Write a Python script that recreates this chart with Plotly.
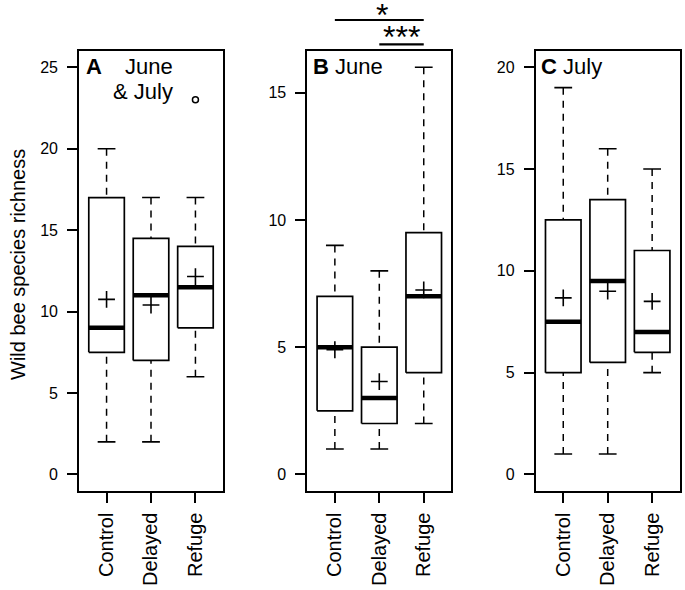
import plotly.graph_objects as go

categories = ["Control", "Delayed", "Refuge"]

# Panel A: June & July
a_lower = [2, 2, 6]
a_q1 = [7.5, 7, 9]
a_median = [9, 11, 11.5]
a_q3 = [17, 14.5, 14]
a_upper = [20, 17, 17]
a_mean = [10.75, 10.4, 12.15]
a_outliers = {"Refuge": [23]}

# Panel B: June
b_lower = [1, 1, 2]
b_q1 = [2.5, 2, 4]
b_median = [5, 3, 7]
b_q3 = [7, 5, 9.5]
b_upper = [9, 8, 16]
b_mean = [4.9, 3.65, 7.25]
b_outliers = {}

# Panel C: July
c_lower = [1, 1, 5]
c_q1 = [5, 5.5, 6]
c_median = [7.5, 9.5, 7]
c_q3 = [12.5, 13.5, 11]
c_upper = [19, 16, 15]
c_mean = [8.67, 9.0, 8.5]
c_outliers = {}

a_ticks = [0, 5, 10, 15, 20, 25]
b_ticks = [0, 5, 10, 15]
c_ticks = [0, 5, 10, 15, 20]

FONT = "Liberation Sans, Arial, Helvetica, sans-serif"
W, H = 685, 590
BOXW = 0.4     # half box width
CAPW = 0.2     # half staple width
XR = [0.38, 3.62]

panels = [
    dict(lo=a_lower, q1=a_q1, med=a_median, q3=a_q3, up=a_upper, mean=a_mean, out=a_outliers,
         ylim=(0, 25), ticks=a_ticks, px=(79, 223)),
    dict(lo=b_lower, q1=b_q1, med=b_median, q3=b_q3, up=b_upper, mean=b_mean, out=b_outliers,
         ylim=(0, 16), ticks=b_ticks, px=(307.3, 451.3)),
    dict(lo=c_lower, q1=c_q1, med=c_median, q3=c_q3, up=c_upper, mean=c_mean, out=c_outliers,
         ylim=(0, 20), ticks=c_ticks, px=(535.7, 679.7)),
]

fig = go.Figure()
ytop, ybot = 51, 490.7
ydom = [1 - ybot / H, 1 - ytop / H]

for k, p in enumerate(panels):
    sfx = "" if k == 0 else str(k + 1)
    xa, ya = "x" + sfx, "y" + sfx
    pos = list(range(1, len(categories) + 1))
    # whiskers (dashed)
    wx, wy = [], []
    for i, x in enumerate(pos):
        wx += [x, x, None, x, x, None]
        wy += [p["up"][i], p["q3"][i], None, p["lo"][i], p["q1"][i], None]
    fig.add_trace(go.Scatter(x=wx, y=wy, mode="lines", xaxis=xa, yaxis=ya,
                             line=dict(color="black", width=1.5, dash="7px,6px"),
                             hoverinfo="skip", showlegend=False))
    # staples
    sx, sy = [], []
    for i, x in enumerate(pos):
        sx += [x - CAPW, x + CAPW, None, x - CAPW, x + CAPW, None]
        sy += [p["up"][i], p["up"][i], None, p["lo"][i], p["lo"][i], None]
    fig.add_trace(go.Scatter(x=sx, y=sy, mode="lines", xaxis=xa, yaxis=ya,
                             line=dict(color="black", width=1.6),
                             hoverinfo="skip", showlegend=False))
    # boxes
    bx, by = [], []
    for i, x in enumerate(pos):
        bx += [x - BOXW, x + BOXW, x + BOXW, x - BOXW, x - BOXW, None]
        by += [p["q1"][i], p["q1"][i], p["q3"][i], p["q3"][i], p["q1"][i], None]
    fig.add_trace(go.Scatter(x=bx, y=by, mode="lines", xaxis=xa, yaxis=ya,
                             line=dict(color="black", width=1.7),
                             hoverinfo="skip", showlegend=False))
    # medians
    mx, my = [], []
    for i, x in enumerate(pos):
        mx += [x - BOXW, x + BOXW, None]
        my += [p["med"][i], p["med"][i], None]
    fig.add_trace(go.Scatter(x=mx, y=my, mode="lines", xaxis=xa, yaxis=ya,
                             line=dict(color="black", width=4.5),
                             hoverinfo="skip", showlegend=False))
    # means
    fig.add_trace(go.Scatter(x=pos, y=p["mean"], mode="markers", xaxis=xa, yaxis=ya,
                             marker=dict(symbol="cross-thin", size=12, color="black",
                                         line=dict(color="black", width=1.6)),
                             hoverinfo="skip", showlegend=False))
    # outliers
    ox, oy = [], []
    for cat, vals in p["out"].items():
        for v in vals:
            ox.append(categories.index(cat) + 1)
            oy.append(v)
    if ox:
        fig.add_trace(go.Scatter(x=ox, y=oy, mode="markers", xaxis=xa, yaxis=ya,
                                 marker=dict(symbol="circle-open", size=6, color="black",
                                             line=dict(color="black", width=1.5)),
                                 hoverinfo="skip", showlegend=False))
    lo, hi = p["ylim"]
    pad = 0.04 * (hi - lo)
    axcommon = dict(showline=True, mirror=True, linecolor="black", linewidth=1.7,
                    showgrid=False, zeroline=False, ticks="outside", ticklen=10,
                    tickwidth=1.6, tickcolor="black", fixedrange=True)
    fig.layout["xaxis" + sfx] = dict(
        axcommon, domain=[p["px"][0] / W, p["px"][1] / W], range=XR,
        tickvals=pos, ticktext=categories, tickangle=-90, anchor=ya,
        tickfont=dict(family=FONT, size=20, color="black"), ticklabelstandoff=2)
    fig.layout["yaxis" + sfx] = dict(
        axcommon, domain=ydom, range=[lo - pad, hi + pad], tickvals=p["ticks"],
        anchor=xa, tickfont=dict(family=FONT, size=16, color="black"),
        ticklabelstandoff=6)

# significance bars for panel B (in x2 domain coordinates, above the plot)
def xdom(v):
    return (v - XR[0]) / (XR[1] - XR[0])

i_c, i_d, i_r = [categories.index(c) + 1 for c in categories]
sig = [(i_c, i_r, 1 - 20 / H, "*", (i_c + i_r) / 2 + 0.05, -15),
       (i_d, i_r, 1 - 44.3 / H, "***", (i_d + i_r) / 2, -13)]
for x0, x1, yp, lab, xt, ys in sig:
    fig.add_shape(type="line", xref="x2 domain", yref="paper",
                  x0=xdom(x0), x1=xdom(x1), y0=yp, y1=yp,
                  line=dict(color="black", width=2.2))
    fig.add_annotation(xref="x2 domain", yref="paper", x=xdom(xt), y=yp,
                       text=lab, showarrow=False, xanchor="center", yanchor="bottom",
                       font=dict(family=FONT, size=32, color="black"), yshift=ys)

# panel labels
lab_font = dict(family=FONT, size=22, color="black")
fig.add_annotation(xref="paper", yref="paper", x=84 / W, y=1 - 52 / H, text="<b>A</b>",
                   showarrow=False, xanchor="left", yanchor="top", font=lab_font)
fig.add_annotation(xref="paper", yref="paper", x=175 / W, y=1 - 52 / H, text="June",
                   showarrow=False, xanchor="right", yanchor="top", font=lab_font)
fig.add_annotation(xref="paper", yref="paper", x=175 / W, y=1 - 77 / H, text="& July",
                   showarrow=False, xanchor="right", yanchor="top", font=lab_font)
fig.add_annotation(xref="paper", yref="paper", x=311 / W, y=1 - 52 / H, text="<b>B</b> June",
                   showarrow=False, xanchor="left", yanchor="top", font=lab_font)
fig.add_annotation(xref="paper", yref="paper", x=539 / W, y=1 - 52 / H, text="<b>C</b> July",
                   showarrow=False, xanchor="left", yanchor="top", font=lab_font)

# y axis title
fig.add_annotation(xref="paper", yref="paper", x=18 / W, y=1 - 265 / H,
                   text="Wild bee species richness", textangle=-90, showarrow=False,
                   xanchor="center", yanchor="middle",
                   font=dict(family=FONT, size=20, color="black"))

fig.update_layout(width=W, height=H, margin=dict(l=0, r=0, t=0, b=0),
                  paper_bgcolor="white", plot_bgcolor="white", showlegend=False)

fig.write_html("out.html", config={"displayModeBar": False},
               post_script="document.body.style.margin='0';document.body.style.overflow='hidden';")
